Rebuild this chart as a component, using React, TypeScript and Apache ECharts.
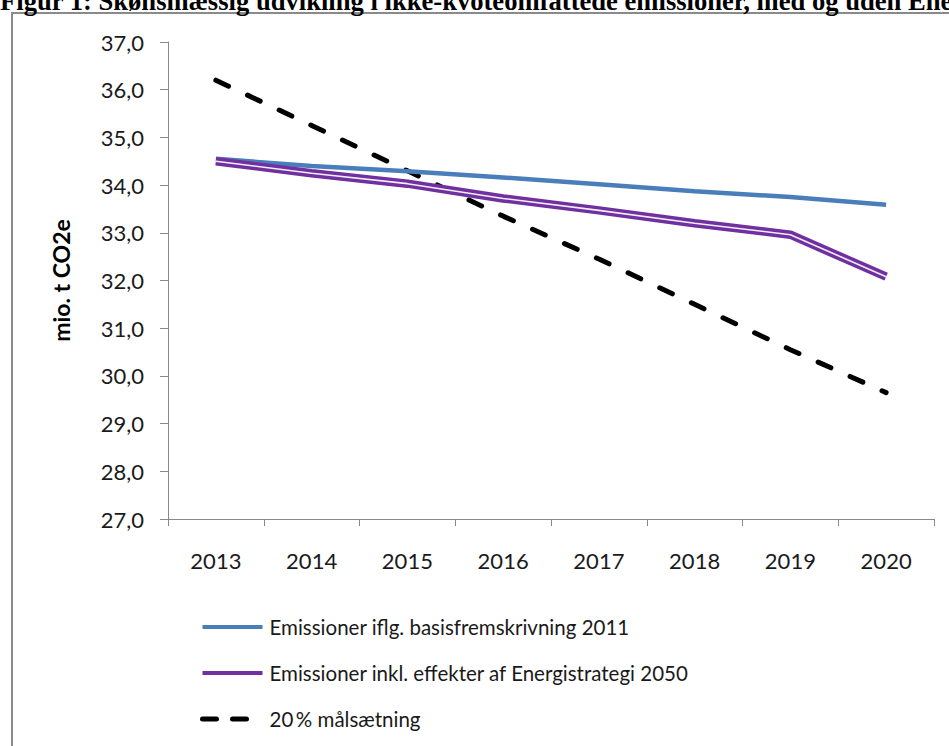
import React, { useEffect, useRef } from "react";
import * as echarts from "echarts";

const years = ["2013", "2014", "2015", "2016", "2017", "2018", "2019", "2020"];
const basis = [34.55, 34.4, 34.29, 34.16, 34.02, 33.87, 33.75, 33.59];
const strategi = [34.5, 34.25, 34.03, 33.72, 33.47, 33.2, 32.96, 32.08];
const maal = [36.2, 35.25, 34.3, 33.35, 32.45, 31.5, 30.55, 29.65];

const nameBasis = "Emissioner iflg. basisfremskrivning 2011";
const nameStrategi = "Emissioner inkl. effekter af Energistrategi 2050";
const nameMaal = "20\u2009% målsætning";
const titleText =
  "Figur 1: Skønsmæssig udvikling i ikke-kvoteomfattede emissioner, med og uden Energistrategi 2050";
const yName = "mio. t CO2e";

const FONT = "Lato, 'Open Sans', sans-serif";

export default function App() {
  const ref = useRef<HTMLDivElement>(null);
  useEffect(() => {
    if (!ref.current) return;
    const chart = echarts.init(ref.current, null, { renderer: "svg" });
    chart.setOption({
      animation: false,
      backgroundColor: "#ffffff",
      textStyle: { fontFamily: FONT },
      graphic: [
        {
          type: "rect",
          shape: { x: 12, y: 13, width: 1000, height: 800 },
          style: { fill: "none", stroke: "#8a8a8a", lineWidth: 2 },
          silent: true,
        },
        {
          type: "text",
          x: 0,
          y: -13,
          style: {
            text: titleText,
            fontFamily: "'Liberation Serif', 'Times New Roman', serif",
            fontWeight: "bold",
            fontSize: 26.6,
            fill: "#000",
            verticalAlign: "top",
          },
          silent: true,
        },
      ],
      grid: { left: 168, top: 42, width: 766, height: 477, containLabel: false },
      legend: {
        orient: "vertical",
        left: 200,
        top: 614,
        padding: 0,
        itemWidth: 60,
        itemHeight: 12,
        itemGap: 20,
        itemStyle: { opacity: 0 },
        textStyle: { fontFamily: FONT, fontSize: 20.5, color: "#1a1a1a", lineHeight: 26, padding: [0, 0, 0, 2] },
        data: [
          { name: nameBasis, lineStyle: { width: 4 } },
          { name: nameStrategi, lineStyle: { width: 4 } },
          { name: nameMaal, lineStyle: { width: 5, type: [14, 16] } },
        ],
      },
      xAxis: {
        type: "category",
        data: years,
        boundaryGap: true,
        axisLine: { lineStyle: { color: "#888", width: 1 } },
        axisTick: { show: true, inside: false, length: 7, lineStyle: { color: "#888" } },
        axisLabel: { fontFamily: FONT, fontSize: 22, color: "#1a1a1a", margin: 30 },
        splitLine: { show: false },
      },
      yAxis: {
        type: "value",
        min: 27,
        max: 37,
        interval: 1,
        name: yName,
        nameLocation: "middle",
        nameRotate: 90,
        nameGap: 96,
        nameTextStyle: { fontFamily: FONT, fontSize: 23, fontWeight: "bold", color: "#000" },
        axisLine: { show: true, lineStyle: { color: "#888", width: 1 } },
        axisTick: { show: true, inside: false, length: 8, lineStyle: { color: "#888" } },
        axisLabel: {
          fontFamily: FONT,
          fontSize: 22,
          color: "#1a1a1a",
          margin: 24,
          formatter: (v: number) => v.toFixed(1).replace(".", ","),
        },
        splitLine: { show: false },
      },
      series: [
        {
          name: nameMaal,
          type: "line",
          data: maal,
          symbol: "none",
          lineStyle: { color: "#000", width: 5, type: [14, 21], cap: "round" },
          itemStyle: { color: "#000" },
          z: 2,
        },
        {
          name: nameBasis,
          type: "line",
          data: basis,
          symbol: "none",
          lineStyle: { color: "#4A7EBB", width: 4.5 },
          itemStyle: { color: "#4A7EBB" },
          z: 3,
        },
        {
          name: nameStrategi,
          type: "line",
          data: strategi,
          symbol: "none",
          lineStyle: { color: "#7030A0", width: 8.5 },
          itemStyle: { color: "#7030A0" },
          z: 4,
        },
        {
          name: "_inner",
          type: "line",
          data: strategi,
          symbol: "none",
          lineStyle: { color: "#f2eef7", width: 1.6 },
          itemStyle: { color: "#ffffff" },
          z: 5,
          silent: true,
        },
      ],
    });
    return () => chart.dispose();
  }, []);
  return (
    <div
      ref={ref}
      style={{ position: "fixed", left: 0, top: 0, width: 949, height: 746 }}
    />
  );
}
